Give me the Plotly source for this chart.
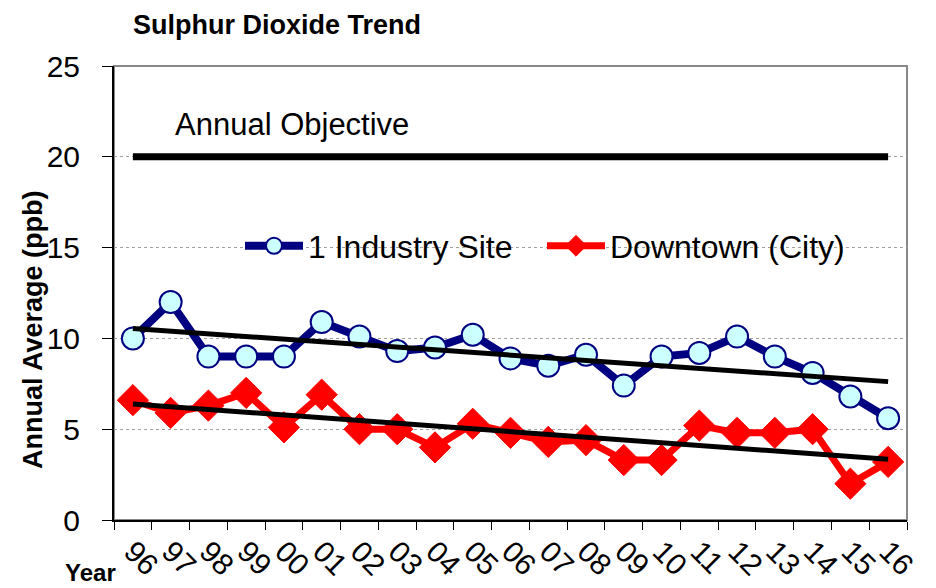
import numpy as np
import plotly.graph_objects as go

years = ["96", "97", "98", "99", "00", "01", "02", "03", "04", "05", "06",
         "07", "08", "09", "10", "11", "12", "13", "14", "15", "16"]
industry = [10.0, 12.0, 9.0, 9.0, 9.0, 10.9, 10.1, 9.3, 9.5, 10.2, 8.9,
            8.5, 9.1, 7.4, 9.0, 9.2, 10.1, 9.0, 8.1, 6.8, 5.6]
downtown = [6.6, 5.9, 6.3, 7.0, 5.1, 6.9, 5.0, 5.0, 4.0, 5.3, 4.8,
            4.3, 4.4, 3.3, 3.3, 5.2, 4.8, 4.8, 5.0, 2.0, 3.2]
objective = 20

idx = np.arange(len(years))
ind_fit = np.polyval(np.polyfit(idx, industry, 1), idx)
dt_fit = np.polyval(np.polyfit(idx, downtown, 1), idx)

FONT = "Liberation Sans"

# page body offsets the figure by 8px
W, H = 928, 580
L, R, T, B = 106, 29, 58, 68
PW, PH = W - L - R, H - T - B

def px(xabs):
    return (xabs - 8 - L) / PW

def py(yabs):
    return (H - B - (yabs - 8)) / PH

fig = go.Figure()
fig.add_trace(go.Scatter(x=[years[0], years[-1]], y=[objective, objective], mode="lines",
                         line=dict(color="black", width=7), showlegend=False, hoverinfo="skip"))
fig.add_trace(go.Scatter(x=years, y=industry, mode="lines+markers", name="1 Industry Site",
                         line=dict(color="#000080", width=8),
                         marker=dict(symbol="circle", size=22, color="#CCFFFF",
                                     line=dict(color="#000080", width=2))))
fig.add_trace(go.Scatter(x=years, y=downtown, mode="lines+markers", name="Downtown (City)",
                         line=dict(color="#FF0000", width=7),
                         marker=dict(symbol="diamond", size=24, color="#FF0000",
                                     line=dict(color="#FF0000", width=1))))
fig.add_trace(go.Scatter(x=years, y=ind_fit, mode="lines", line=dict(color="black", width=5),
                         showlegend=False, hoverinfo="skip"))
fig.add_trace(go.Scatter(x=years, y=dt_fit, mode="lines", line=dict(color="black", width=5),
                         showlegend=False, hoverinfo="skip"))

fig.update_layout(
    width=W, height=H,
    margin=dict(l=L, r=R, t=T, b=B, autoexpand=False),
    paper_bgcolor="white", plot_bgcolor="white",
    font=dict(family=FONT, color="black"),
    legend=dict(orientation="h", x=px(240), xanchor="left", y=py(246), yanchor="middle",
                font=dict(family=FONT, size=32), bgcolor="rgba(0,0,0,0)",
                itemwidth=58, entrywidth=229, entrywidthmode="pixels", tracegroupgap=0),
    showlegend=True,
)
fig.update_xaxes(type="category", categoryorder="array", categoryarray=years,
                 tickson="boundaries", ticks="outside", ticklen=8, automargin=False,
                 tickcolor="black", showline=True, linecolor="black", linewidth=2,
                 showgrid=False, tickangle=45, tickfont=dict(family=FONT, size=30),
                 range=[-0.5, 20.5])
fig.update_yaxes(range=[0, 25], dtick=5, ticks="outside", ticklen=10, tickcolor="black",
                 showline=True, linecolor="black", linewidth=2, automargin=False,
                 ticklabelstandoff=16,
                 showgrid=True, gridcolor="#A0A0A0", griddash="dot", gridwidth=1,
                 zeroline=False, tickfont=dict(family=FONT, size=30))
fig.add_shape(type="rect", xref="paper", yref="paper", x0=0, x1=1, y0=0, y1=1,
              line=dict(color="#888888", width=2), layer="below")
fig.add_annotation(text="<b>Sulphur Dioxide Trend</b>", xref="paper", yref="paper",
                   x=px(131), y=py(8), xanchor="left", yanchor="top", showarrow=False,
                   font=dict(family=FONT, size=27))
fig.add_annotation(text="<b>Annual Average (ppb)</b>", xref="paper", yref="paper",
                   x=px(33), y=py(330), textangle=-90, xanchor="center", yanchor="middle",
                   showarrow=False, font=dict(family=FONT, size=27))
fig.add_annotation(text="Annual Objective", xref="paper", yref="y", x=px(173), y=21.8,
                   xanchor="left", yanchor="middle", showarrow=False,
                   font=dict(family=FONT, size=31))
fig.add_annotation(text="<b>Year</b>", xref="paper", yref="paper", x=px(63),
                   y=py(572), xanchor="left", yanchor="middle", showarrow=False,
                   font=dict(family=FONT, size=24))
fig.write_html("out.html")
